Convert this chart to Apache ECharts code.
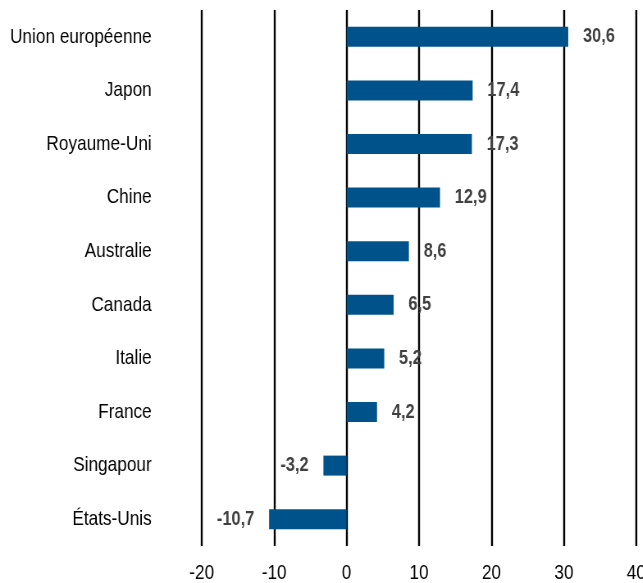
<!DOCTYPE html>
<html>
<head>
<meta charset="utf-8">
<script src="https://cdn.jsdelivr.net/npm/echarts@6/dist/echarts.min.js"></script>
<style>
  html, body { margin: 0; padding: 0; background: #fff; overflow: hidden; }
  /* chart drawn wider, then squeezed horizontally to get the narrow type of the original */
  #chart { width: 784px; height: 583px; transform: scaleX(0.82); transform-origin: 0 0; }
</style>
</head>
<body>
<div id="chart"></div>
<script>
var categories = ['Union européenne', 'Japon', 'Royaume-Uni', 'Chine', 'Australie',
  'Canada', 'Italie', 'France', 'Singapour', 'États-Unis'];
var values = [30.6, 17.4, 17.3, 12.9, 8.6, 6.5, 5.2, 4.2, -3.2, -10.7];

var font = '"Liberation Sans", Arial, sans-serif';

var chart = echarts.init(document.getElementById('chart'));

var option = {
  animation: false,
  grid: { left: 246, right: 8, top: 10, bottom: 37, outerBoundsMode: 'none' },
  xAxis: {
    type: 'value',
    min: -20,
    max: 40,
    interval: 10,
    axisLine: { show: false },
    axisTick: { show: false },
    axisLabel: { margin: 17, fontSize: 21, color: '#000', fontFamily: font },
    splitLine: { lineStyle: { color: '#000', width: 2.4 } }
  },
  yAxis: {
    type: 'category',
    inverse: true,
    data: categories,
    axisLine: { show: false, onZero: false },
    axisTick: { show: false },
    axisLabel: { margin: 61, fontSize: 21, color: '#000', fontFamily: font }
  },
  series: [{
    type: 'bar',
    data: values.map(function (v) {
      return {
        value: v,
        label: { position: v < 0 ? 'left' : 'right' }
      };
    }),
    barWidth: 20,
    itemStyle: { color: '#00538a' },
    label: {
      show: true,
      distance: 18,
      fontSize: 20,
      fontWeight: 'bold',
      color: '#404040',
      fontFamily: font,
      formatter: function (p) { return String(p.value).replace('.', ','); }
    }
  }]
};

chart.setOption(option);
</script>
</body>
</html>
